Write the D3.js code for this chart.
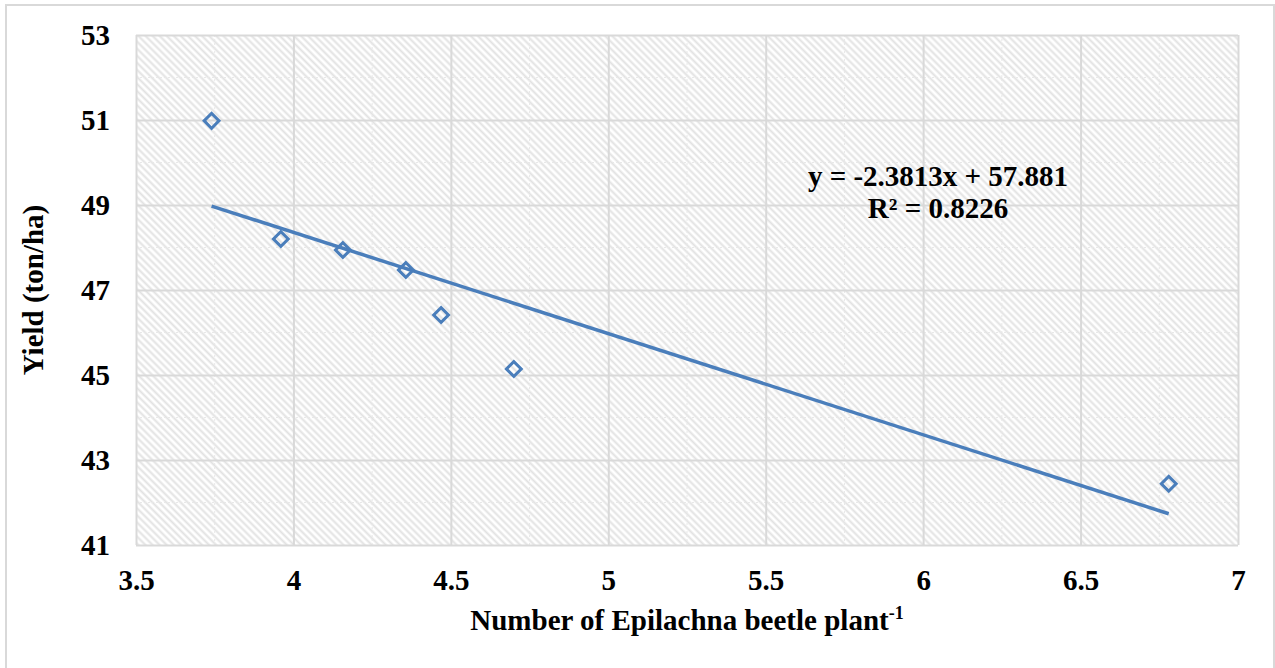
<!DOCTYPE html>
<html lang="en">
<head>
<meta charset="utf-8">
<script src="https://cdn.jsdelivr.net/npm/d3@7"></script>
<style>
  body { margin: 0; background: #fff; }
  text { font-family: "Liberation Serif", "Times New Roman", serif; font-weight: bold; fill: #000; }
</style>
</head>
<body>
<script>
// beetles per plant vs yield
const beetles = [3.74, 3.96, 4.157, 4.357, 4.469, 4.70, 6.78];
const yields = [50.98, 48.2, 47.94, 47.47, 46.41, 45.14, 42.44];
const xTicks = [3.5, 4, 4.5, 5, 5.5, 6, 6.5, 7];
const yTicks = [41, 43, 45, 47, 49, 51, 53];
const slope = -2.3813, intercept = 57.881, rSquared = 0.8226;

const width = 1275, height = 668;
const margin = {left: 136, right: 37, top: 35, bottom: 123};
const fontSize = "29px";

const svg = d3.select("body").append("svg")
  .attr("width", width)
  .attr("height", height);

const defs = svg.append("defs");
const pat = defs.append("pattern")
  .attr("id", "hatch")
  .attr("patternUnits", "userSpaceOnUse")
  .attr("width", 5)
  .attr("height", 5)
  .attr("patternTransform", "rotate(45)");
pat.append("rect").attr("width", 5).attr("height", 5).attr("fill", "#fff");
pat.append("line")
  .attr("x1", 0).attr("y1", 2.5).attr("x2", 5).attr("y2", 2.5)
  .attr("stroke", "#e2e2e2")
  .attr("stroke-width", 2);

// outer chart border
svg.append("rect")
  .attr("x", 6).attr("y", 5)
  .attr("width", width - 7).attr("height", height)
  .attr("fill", "none")
  .attr("stroke", "#d9d9d9")
  .attr("stroke-width", 2);

const x = d3.scaleLinear().domain([3.5, 7]).range([margin.left, width - margin.right]);
const y = d3.scaleLinear().domain([41, 53]).range([height - margin.bottom, margin.top]);

svg.append("rect")
  .attr("x", x(3.5)).attr("y", y(53))
  .attr("width", x(7) - x(3.5)).attr("height", y(41) - y(53))
  .attr("fill", "url(#hatch)");

// minor grid
const minorX = d3.range(3.75, 7, 0.5);
const minorY = d3.range(42, 53, 2);
svg.append("g").selectAll("line").data(minorX).join("line")
  .attr("x1", d => x(d)).attr("x2", d => x(d))
  .attr("y1", y(53)).attr("y2", y(41))
  .attr("stroke", "#e8e8e8").attr("stroke-width", 1)
  .attr("stroke-dasharray", "2,2");
svg.append("g").selectAll("line").data(minorY).join("line")
  .attr("x1", x(3.5)).attr("x2", x(7))
  .attr("y1", d => y(d)).attr("y2", d => y(d))
  .attr("stroke", "#e8e8e8").attr("stroke-width", 1)
  .attr("stroke-dasharray", "2,2");

// major grid
const xAxis = svg.append("g")
  .attr("transform", `translate(0,${y(41)})`)
  .call(d3.axisBottom(x).tickValues(xTicks).tickSize(-(y(41) - y(53))).tickPadding(24)
    .tickFormat(d => d));
const yAxis = svg.append("g")
  .attr("transform", `translate(${x(3.5)},0)`)
  .call(d3.axisLeft(y).tickValues(yTicks).tickSize(-(x(7) - x(3.5))).tickPadding(26));

[xAxis, yAxis].forEach(g => {
  g.select(".domain").remove();
  g.selectAll(".tick line").attr("stroke", "#d9d9d9").attr("stroke-width", 2);
  g.selectAll(".tick text")
    .style("font-family", "'Liberation Serif', serif")
    .style("font-weight", "bold")
    .style("font-size", fontSize)
    .attr("fill", "#000");
});

// trendline
const xMin = d3.min(beetles), xMax = d3.max(beetles);
svg.append("line")
  .attr("x1", x(xMin)).attr("y1", y(slope * xMin + intercept))
  .attr("x2", x(xMax)).attr("y2", y(slope * xMax + intercept))
  .attr("stroke", "#4a7ebb")
  .attr("stroke-width", 3.5);

// points
const pts = beetles.map((b, i) => ({b, yv: yields[i]}));
svg.append("g").selectAll("path").data(pts).join("path")
  .attr("d", d3.symbol().type(d3.symbolSquare).size(110))
  .attr("transform", d => `translate(${x(d.b)},${y(d.yv)}) rotate(45)`)
  .attr("fill", "none")
  .attr("stroke", "#4a7ebb")
  .attr("stroke-width", 3);

// equation
svg.append("text")
  .attr("x", 938).attr("y", 186)
  .attr("text-anchor", "middle")
  .style("font-size", fontSize)
  .text(`y = ${slope}x + ${intercept}`);
svg.append("text")
  .attr("x", 938).attr("y", 218)
  .attr("text-anchor", "middle")
  .style("font-size", fontSize)
  .text(`R² = ${rSquared}`);

// axis titles
const xt = svg.append("text")
  .attr("x", 687).attr("y", 630)
  .attr("text-anchor", "middle")
  .style("font-size", fontSize);
xt.append("tspan").text("Number of Epilachna beetle plant");
xt.append("tspan").attr("dy", -11).style("font-size", "18px").text("-1");

svg.append("text")
  .attr("transform", `translate(43,${(y(41) + y(53)) / 2}) rotate(-90)`)
  .attr("text-anchor", "middle")
  .style("font-size", fontSize)
  .text("Yield (ton/ha)");
</script>
</body>
</html>
